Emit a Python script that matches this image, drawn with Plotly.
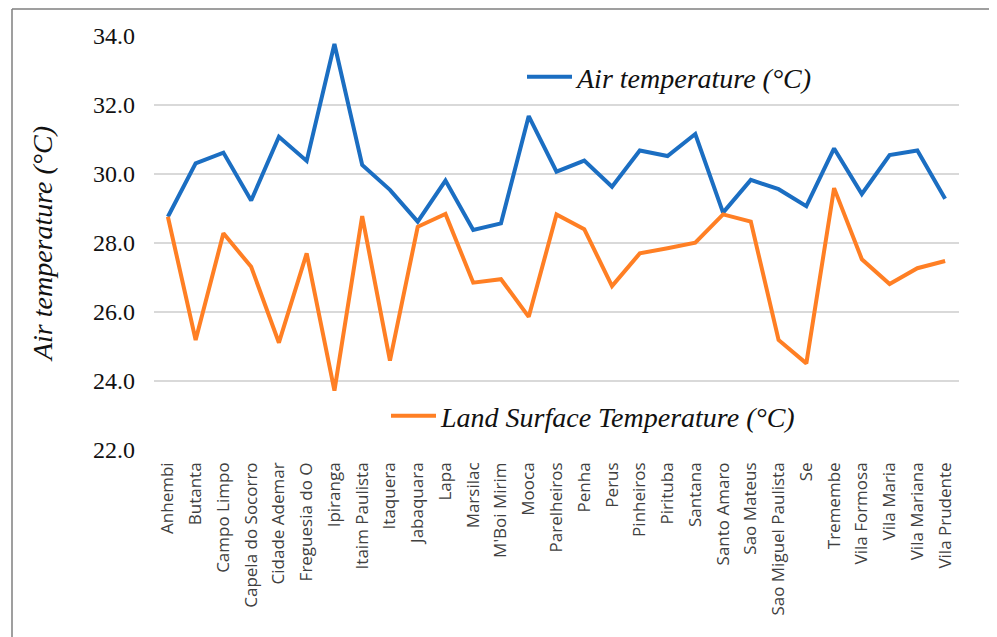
import plotly.graph_objects as go

districts = ["Anhembi", "Butanta", "Campo Limpo", "Capela do Socorro", "Cidade Ademar",
             "Freguesia do O", "Ipiranga", "Itaim Paulista", "Itaquera", "Jabaquara", "Lapa",
             "Marsilac", "M'Boi Mirim", "Mooca", "Parelheiros", "Penha", "Perus", "Pinheiros",
             "Pirituba", "Santana", "Santo Amaro", "Sao Mateus", "Sao Miguel Paulista", "Se",
             "Tremembe", "Vila Formosa", "Vila Maria", "Vila Mariana", "Vila Prudente"]

air_temp = [28.76, 30.31, 30.62, 29.23, 31.08, 30.38, 33.77, 30.26, 29.54, 28.62, 29.81,
            28.38, 28.57, 31.68, 30.07, 30.39, 29.63, 30.68, 30.52, 31.16, 28.88, 29.83,
            29.56, 29.07, 30.74, 29.42, 30.55, 30.68, 29.28]

lst_temp = [28.76, 25.19, 28.28, 27.31, 25.11, 27.70, 23.72, 28.78, 24.59, 28.47, 28.84,
            26.85, 26.95, 25.86, 28.83, 28.40, 26.75, 27.70, 27.85, 28.01, 28.83, 28.62,
            25.19, 24.51, 29.59, 27.53, 26.81, 27.27, 27.48]

y_ticks = [22, 24, 26, 28, 30, 32, 34]

OFF = 8  # page body margin
W, H = 997 - OFF, 637 - OFF
L, R, T, B = 154 - OFF, 38, 36 - OFF, 187
pw, ph = W - L - R, H - T - B

serif = "Liberation Serif"

fig = go.Figure()
fig.add_trace(go.Scatter(x=districts, y=air_temp, mode="lines", name="<i>Air temperature (°C)</i>",
                         line=dict(color="#1b6ec2", width=4), legend="legend"))
fig.add_trace(go.Scatter(x=districts, y=lst_temp, mode="lines", name="<i>Land Surface Temperature (°C)</i>",
                         line=dict(color="#ff7f24", width=4), legend="legend2"))

def px_x(v):
    return (v - OFF - L) / pw

def px_y(v):
    return 1 - (v - OFF - T) / ph

leg_font = dict(family=serif, size=28, color="#111111")
fig.update_layout(
    width=W, height=H,
    margin=dict(l=L, r=R, t=T, b=B, pad=0),
    paper_bgcolor="white", plot_bgcolor="white",
    showlegend=True,
    legend=dict(x=px_x(522), y=px_y(77), xanchor="left", yanchor="middle",
                font=leg_font, bgcolor="rgba(0,0,0,0)", itemwidth=45),
    legend2=dict(x=px_x(386), y=px_y(416), xanchor="left", yanchor="middle",
                 font=leg_font, bgcolor="rgba(0,0,0,0)", itemwidth=45),
    xaxis=dict(type="category", range=[-0.5, len(districts) - 0.5], tickangle=-90,
               tickfont=dict(family="Open Sans", size=17, color="#404040"),
               showgrid=False, showline=False, ticks="", zeroline=False,
               ticklabelstandoff=8),
    yaxis=dict(range=[22, 34], tickvals=y_ticks, tickformat=".1f",
               tickfont=dict(family=serif, size=24, color="#111111"),
               showgrid=True, gridcolor="#d9d9d9", gridwidth=1.5, zeroline=False,
               ticks="", ticklabelstandoff=18,
               title=dict(text="<i>Air temperature (°C)</i>", font=dict(family=serif, size=28, color="#111111"),
                          standoff=32)),
    shapes=[
        dict(type="line", xref="paper", yref="paper", x0=px_x(12), x1=px_x(12), y0=px_y(9), y1=px_y(640),
             line=dict(color="#7f7f7f", width=1.5)),
        dict(type="line", xref="paper", yref="paper", x0=px_x(12), x1=px_x(1000), y0=px_y(9), y1=px_y(9),
             line=dict(color="#7f7f7f", width=1.5)),
    ],
)

fig.write_html("out.html")
